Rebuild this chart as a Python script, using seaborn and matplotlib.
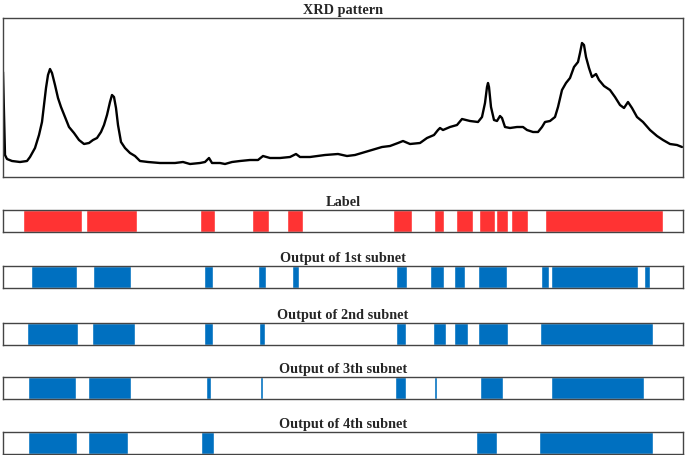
import numpy as np
import seaborn as sns
import matplotlib.pyplot as plt

sns.set_style('white')
plt.rcParams['font.family'] = ['Liberation Serif', 'DejaVu Serif']

# XRD pattern (position along scan, intensity in arbitrary units)
xrd_pos = [3, 5, 7, 12, 20, 27, 30, 35, 39, 42, 44, 46, 48, 50, 52, 55, 58, 61, 65, 69,
           74, 79, 84, 89, 93, 97, 101, 104, 107, 110, 112, 114, 116, 118, 121, 125, 130,
           135, 140, 148, 160, 175, 183, 190, 200, 205, 209, 212, 220, 225, 232, 240, 250,
           258, 263, 270, 280, 290, 296, 300, 310, 325, 338, 347, 355, 365, 375, 382, 390,
           398, 403, 410, 420, 427, 434, 438, 440, 443, 450, 457, 462, 470, 478, 482, 485,
           487, 488, 489, 491, 494, 497, 500, 502, 505, 510, 517, 523, 527, 533, 538, 542,
           545, 550, 555, 558, 562, 566, 570, 574, 578, 580, 582, 584, 586, 589, 592, 596,
           599, 604, 610, 615, 620, 624, 628, 632, 637, 643, 650, 657, 663, 670, 677, 682]
xrd_int = [105, 22, 18, 16, 15, 16, 20, 29, 42, 55, 72, 89, 102, 108, 104, 92, 79, 70, 60, 50,
           44, 37, 33, 34, 37, 39, 45, 52, 62, 75, 82, 80, 69, 52, 35, 29, 24,
           21, 16, 15, 14, 14, 15, 13, 14, 15, 19, 14, 14, 13, 15, 16, 17,
           17, 21, 19, 19, 20, 23, 20, 20, 22, 23, 21, 22, 25, 28, 30, 31,
           34, 36, 33, 34, 39, 42, 47, 49, 47, 50, 52, 58, 56, 55, 60, 74,
           90, 94, 90, 70, 57, 56, 61, 59, 50, 49, 50, 50, 47, 45, 45, 50,
           55, 56, 60, 70, 87, 94, 99, 110, 115, 124, 134, 132, 120, 109, 100, 103,
           97, 91, 87, 80, 72, 69, 75, 69, 60, 55, 47, 41, 37, 33, 32, 30]

# segments (start, end) along the same scan axis
label_segs = [(23, 82), (86, 137), (200, 215), (252, 269), (287, 303), (393, 412), (434, 444),
              (456, 473), (479, 495), (496, 508), (511, 528), (545, 663)]
out1_segs = [(31, 77), (93, 131), (204, 213), (258, 266), (292, 299), (396, 407), (430, 444),
             (454, 465), (478, 507), (541, 549), (551, 638), (644, 650)]
out2_segs = [(27, 78), (92, 135), (204, 213), (259, 265), (396, 406), (433, 446), (454, 468),
             (478, 508), (540, 653)]
out3_segs = [(28, 76), (88, 131), (206, 211), (260, 262.5), (395, 406), (434, 437), (480, 503),
             (551, 644)]
out4_segs = [(28, 77), (88, 128), (201, 214), (476, 497), (539, 653)]

strips = [('Label', label_segs, '#FF3333'),
          ('Output of 1st subnet', out1_segs, '#0070C0'),
          ('Output of 2nd subnet', out2_segs, '#0070C0'),
          ('Output of 3th subnet', out3_segs, '#0070C0'),
          ('Output of 4th subnet', out4_segs, '#0070C0')]

W, H = 685, 455
fig = plt.figure(figsize=(W / 100, H / 100), dpi=100)
x0, x1 = 3, 683


def add_ax(top, bottom):
    return fig.add_axes([x0 / W, (H - bottom) / H, (x1 - x0) / W, (bottom - top) / H])


def style(ax):
    ax.set_xticks([])
    ax.set_yticks([])
    for s in ax.spines.values():
        s.set_color('#444444')
        s.set_linewidth(1.0)


ax = add_ax(18, 177)
sns.lineplot(x=xrd_pos, y=xrd_int, ax=ax, color='black', linewidth=1.7)
ax.set_xlim(x0, x1)
ax.set_ylim(0, 159)
ax.set_xlabel('')
ax.set_ylabel('')
style(ax)
ax.set_title('XRD pattern', fontsize=10.3, fontweight='bold', pad=3)

tops = [210, 266, 323, 377, 432]
for (title, segs, color), t in zip(strips, tops):
    ax = add_ax(t, t + 22)
    ax.broken_barh([(a, b - a) for a, b in segs], (0, 1), facecolors=color)
    ax.set_xlim(x0, x1)
    ax.set_ylim(0, 1)
    style(ax)
    ax.set_title(title, fontsize=10.3, fontweight='bold', pad=3)

fig.savefig('out.png', dpi=100)
